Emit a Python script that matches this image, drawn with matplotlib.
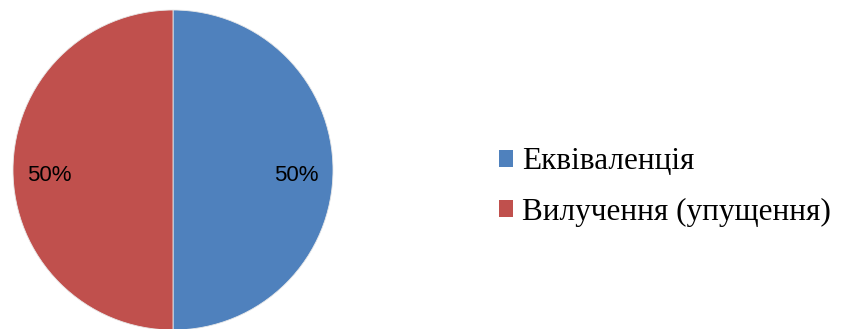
import matplotlib.pyplot as plt
from matplotlib.patches import Patch

labels = ["Еквіваленція", "Вилучення (упущення)"]
values = [50, 50]
colors = ["#4F81BD", "#C0504D"]

W, H = 841, 329
fig = plt.figure(figsize=(W / 100, H / 100), dpi=100)

cx, cy, r = 173, 170, 160
ax = fig.add_axes([(cx - r) / W, (H - cy - r) / H, 2 * r / W, 2 * r / H])
wedges, texts, autotexts = ax.pie(
    values, colors=colors, startangle=90, counterclock=False,
    autopct="%.0f%%", pctdistance=0.77,
    wedgeprops=dict(edgecolor="#e8e8e8", linewidth=0.6),
    textprops=dict(family="Liberation Sans", fontsize=16, color="black"),
)
# nudge the percentage labels a little lower, like the original
for t in autotexts:
    x, y = t.get_position()
    t.set_position((x, y - 0.035))
ax.set_xlim(-1, 1)
ax.set_ylim(-1, 1)
ax.set_aspect("auto")
ax.axis("off")

handles = [Patch(facecolor=c, edgecolor="none") for c in colors]
fig.legend(handles, labels, loc="center left",
           bbox_to_anchor=(499 / W, 1 - 187 / H),
           frameon=False, prop=dict(family="Liberation Serif", size=22.5),
           handlelength=0.46, handleheight=0.46, handletextpad=0.28,
           labelspacing=0.68, borderpad=0, borderaxespad=0)

fig.savefig("out.png", dpi=100)
